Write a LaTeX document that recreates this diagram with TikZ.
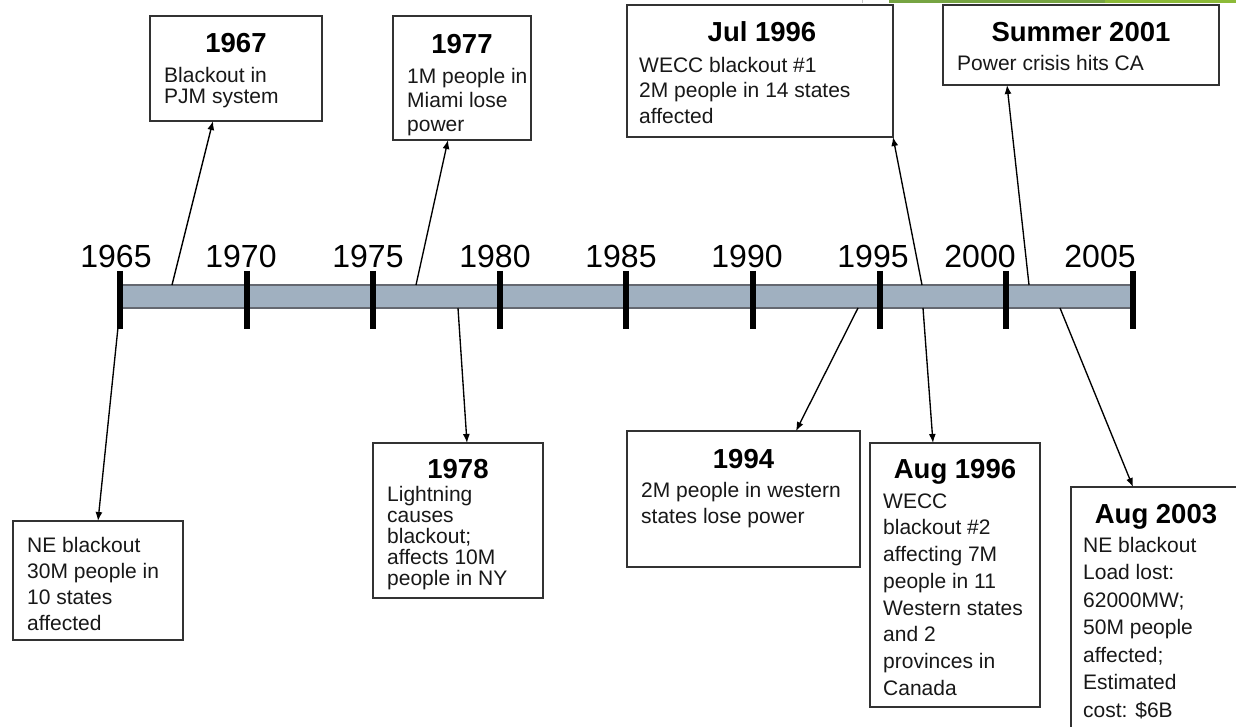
\documentclass[tikz,border=0pt]{standalone}
\usepackage{fontspec}
\setmainfont{Liberation Sans}
\usetikzlibrary{arrows.meta,calc}
\definecolor{barfill}{RGB}{160,176,192}
\definecolor{barline}{RGB}{100,104,112}
\definecolor{boxline}{RGB}{50,50,50}
\definecolor{ink}{RGB}{24,24,24}
\definecolor{topgreen}{RGB}{118,164,66}
\definecolor{topgreenb}{RGB}{140,186,56}

\begin{document}
\begin{tikzpicture}[x=1pt,y=-1pt,
  evbox/.style={draw=boxline, line width=2.6pt, fill=white, inner sep=0pt, outer sep=0pt, anchor=north west},
  evtitle/.style={font=\fontsize{27.5}{30}\selectfont\bfseries, anchor=base, inner sep=0pt, text=black},
  evbody/.style={font=\fontsize{21}{#1}\selectfont, align=left, anchor=north west, inner sep=0pt, text=ink},
  evbody/.default=26.5,
  yearlab/.style={font=\fontsize{32}{36}\selectfont, anchor=base, inner sep=0pt},
  yeartick/.style={line width=6pt},
  link/.style={-{Latex[length=9pt,width=7pt]}, line width=1.35pt},
]
\useasboundingbox (0,0) rectangle (1236,727);

% strip along the top edge
\fill[topgreen] (889,0) rectangle (1105,3);
\fill[topgreenb] (1105,0) rectangle (1236,3);
\fill[gray!45] (861.5,0) rectangle (863,3);

% timeline bar
\node[draw=barline, fill=barfill, line width=1.8pt, inner sep=0pt, outer sep=0pt,
      minimum width=1013pt, minimum height=23pt, anchor=north west] (bar) at (120,285) {};

% event boxes
\node[evbox, minimum width=172pt, minimum height=105pt] (b1967) at (150,16) {};
\node[evbox, minimum width=138pt, minimum height=124pt] (b1977) at (393,16) {};
\node[evbox, minimum width=266pt, minimum height=132pt] (bjul96) at (627,5) {};
\node[evbox, minimum width=276pt, minimum height=80pt] (bsum01) at (943,5) {};
\node[evbox, minimum width=170pt, minimum height=119pt] (b1965) at (13,521) {};
\node[evbox, minimum width=170pt, minimum height=155pt] (b1978) at (373,443) {};
\node[evbox, minimum width=233pt, minimum height=136pt] (b1994) at (627,431) {};
\node[evbox, minimum width=170pt, minimum height=264pt] (baug96) at (870,443) {};
\node[evbox, minimum width=170pt, minimum height=250pt] (baug03) at (1071,487) {};

% titles
\node[evtitle] (t1967) at (236,53) {1967};
\node[evtitle] (t1977) at (462,54) {1977};
\node[evtitle] (tjul96) at (762,42) {Jul 1996};
\node[evtitle] (tsum01) at (1081,42) {Summer 2001};
\node[evtitle] (t1978) at (458,478) {1978};
\node[evtitle] (t1994) at (743.5,468) {1994};
\node[evtitle] (taug96) at (955,478) {Aug 1996};
\node[evtitle] (taug03) at (1156,523) {Aug 2003};

% descriptions (first baseline = node top + 17)
\node[evbody=21] (d1967) at (164,65) {\rule{0pt}{17pt}Blackout in\\PJM system};
\node[evbody=24] (d1977) at (407,66) {\rule{0pt}{17pt}1M people in\\Miami lose\\power};
\node[evbody=25.7] (djul96) at (639,55) {\rule{0pt}{17pt}WECC blackout \#1\\2M people in 14 states\\affected};
\node[evbody] (dsum01) at (957,53) {\rule{0pt}{17pt}Power crisis hits CA};
\node[evbody=26] (d1965) at (27,535) {\rule{0pt}{17pt}NE blackout\\30M people in\\10 states\\affected};
\node[evbody=21] (d1978) at (387,484) {\rule{0pt}{17pt}Lightning\\causes\\blackout;\\affects 10M\\people in NY};
\node[evbody=26] (d1994) at (641,480) {\rule{0pt}{17pt}2M people in western\\states lose power};
\node[evbody=26.7] (daug96) at (883,491) {\rule{0pt}{17pt}WECC\\blackout \#2\\affecting 7M\\people in 11\\Western states\\and 2\\provinces in\\Canada};
\node[evbody=27.5] (daug03) at (1083,535) {\rule{0pt}{17pt}NE blackout\\Load lost:\\62000MW;\\50M people\\affected;\\Estimated\\cost: \$6B};

% points on the bar where the connectors leave it
\coordinate (s1965) at (120,308);
\coordinate (s1967) at (172,285);
\coordinate (s1977) at (416,285);
\coordinate (s1978) at (458,308);
\coordinate (s1994) at (858,308);
\coordinate (sjul96) at (922,285);
\coordinate (saug96) at (923,308);
\coordinate (ssum01) at (1029,285);
\coordinate (saug03) at (1060,308);

% connectors
\draw[link] (s1965) -- ([xshift=85pt]b1965.north west);
\draw[link] (s1967) -- ([xshift=63pt]b1967.south west);
\draw[link] (s1977) -- ([xshift=55pt]b1977.south west);
\draw[link] (s1978) -- ([xshift=94pt]b1978.north west);
\draw[link] (s1994) -- ([xshift=169pt]b1994.north west);
\draw[link] (sjul96) -- (bjul96.south east);
\draw[link] (saug96) -- ([xshift=63pt]baug96.north west);
\draw[link] (ssum01) -- ([xshift=64pt]bsum01.south west);
\draw[link] (saug03) -- ([xshift=62pt]baug03.north west);

% year ticks
\foreach \x in {120,246.6,373.2,499.8,626.4,753,879.6,1006.2,1132.8}
  \draw[yeartick] (\x,271) -- (\x,329);

% year labels
\node[yearlab] (y1965) at (116,267) {1965};
\node[yearlab] (y1970) at (241,267) {1970};
\node[yearlab] (y1975) at (368,267) {1975};
\node[yearlab] (y1980) at (495,267) {1980};
\node[yearlab] (y1985) at (621,267) {1985};
\node[yearlab] (y1990) at (747,267) {1990};
\node[yearlab] (y1995) at (873,267) {1995};
\node[yearlab] (y2000) at (980,267) {2000};
\node[yearlab] (y2005) at (1100,267) {2005};
\end{tikzpicture}
\end{document}
